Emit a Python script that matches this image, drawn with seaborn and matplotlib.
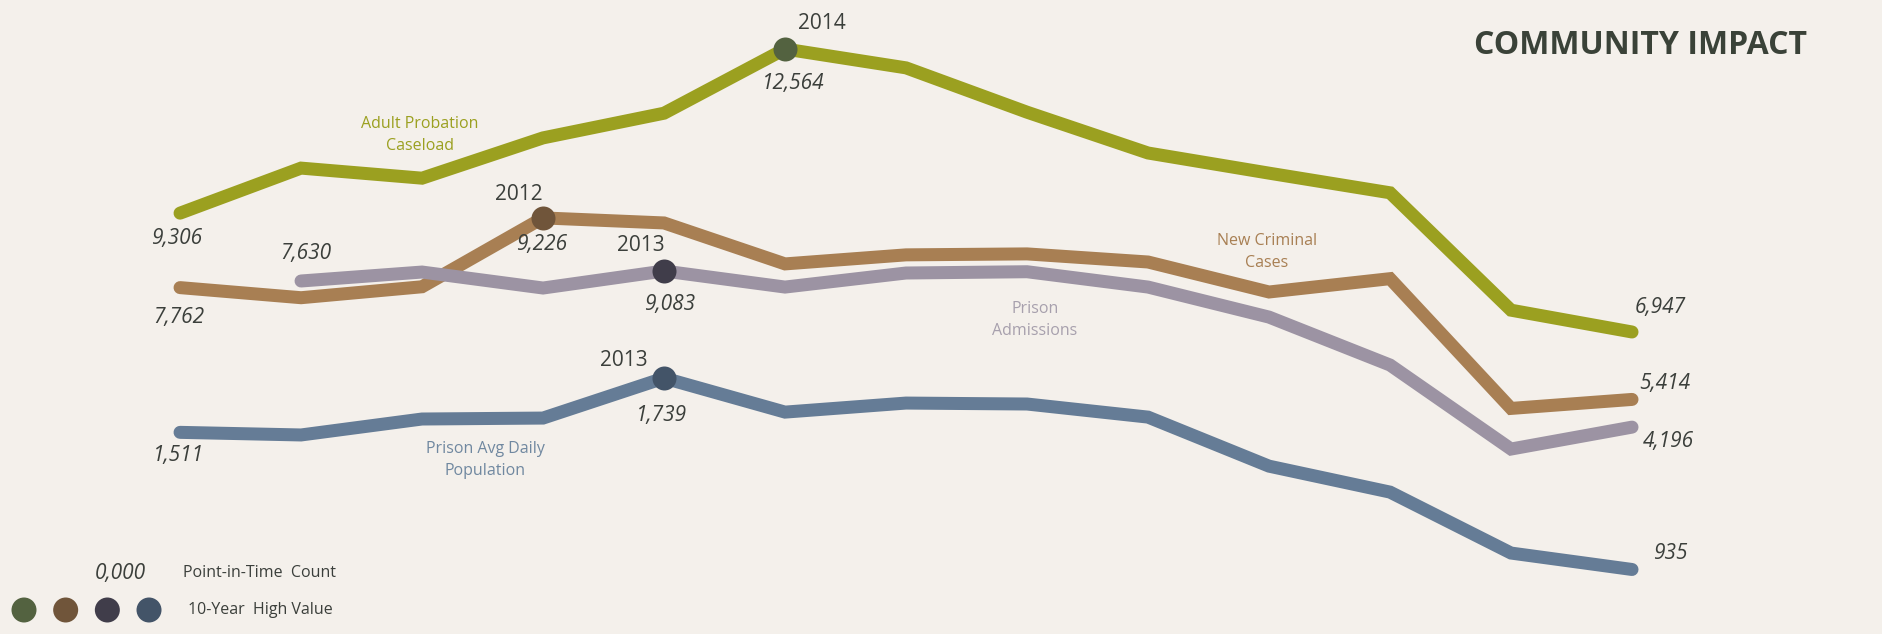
import numpy as np
import matplotlib
matplotlib.use("Agg")
import matplotlib.pyplot as plt
import seaborn as sns

# === Data ===
years = list(range(2009, 2022))
probation = [9306, 10200, 10000, 10800, 11290, 12564, 12190, 11310, 10500, 10100, 9710, 7380, 6947]
new_cases = [7762, 7550, 7780, 9226, 9120, 8260, 8450, 8470, 8300, 7670, 7950, 5225, 5414]
admissions = [np.nan, 8770, 9050, 8550, 9083, 8580, 9020, 9060, 8580, 7640, 6140, 3510, 4196]
prison_adp = [1511, 1500, 1567, 1571, 1739, 1596, 1634, 1630, 1575, 1369, 1260, 1004, 935]

series_names = ["Adult Probation\nCaseload", "New Criminal\nCases",
                "Prison\nAdmissions", "Prison Avg Daily\nPopulation"]
first_labels = ["9,306", "7,762", "7,630", "1,511"]
high_colors = ["#536240", "#70553A", "#403D4A", "#435468"]

BG = "#F4F0EB"
TXT = "#3B3F3B"

sns.set_theme(style="white")
plt.rcParams["font.family"] = ["Open Sans", "DejaVu Sans"]

W, H = 1882, 634
fig = plt.figure(figsize=(W / 100, H / 100), dpi=100, facecolor=BG)

# each series sits on its own y scale, like stacked Excel charts
cfg = [
    dict(vals=probation, color="#9BA020", ylim=(952, 13537),
         yr_off=(37, 26), first_off=(-3, 25), peak_off=(8, 34), last_off=(28, -24),
         name_xy=(420, 135), name_color="#9BA020"),
    dict(vals=new_cases, color="#A87F53", ylim=(488, 13802),
         yr_off=(-24, 23), first_off=(-1, 30), peak_off=(-1, 27), last_off=(33, -16),
         name_xy=(1267, 252), name_color="#A87F53"),
    dict(vals=admissions, color="#9C93A3", ylim=(-2279, 17565),
         yr_off=(-23, 25), first_off=(5, -27), peak_off=(6, 34), last_off=(36, 14),
         name_xy=(1035, 320), name_color="#A7A0AD"),
    dict(vals=prison_adp, color="#657C96", ylim=(664, 3327),
         yr_off=(-40, 18), first_off=(-2, 23), peak_off=(-3, 37), last_off=(38, -16),
         name_xy=(485, 460), name_color="#7088A0"),
]

px = 0.72  # points per pixel at dpi 100
VAL_FS = 15

for i, c in enumerate(cfg):
    ax = fig.add_axes([0, 0, 1, 1])
    ax.set_facecolor("none")
    ax.patch.set_alpha(0)
    vals = np.array(c["vals"], dtype=float)
    sns.lineplot(x=years, y=vals, ax=ax, color=c["color"], linewidth=13 * px,
                 solid_capstyle="round", solid_joinstyle="miter", sort=False)
    ax.set_xlim(2007.512, 2023.066)
    ax.set_ylim(*c["ylim"])
    ax.axis("off")

    # 10-year high marker
    k = int(np.nanargmax(vals))
    sns.scatterplot(x=[years[k]], y=[vals[k]], ax=ax, color=high_colors[i],
                    s=(24 * px) ** 2, linewidth=0, zorder=5)
    ax.annotate(str(years[k]), xy=(years[k], vals[k]),
                xytext=(c["yr_off"][0] * px, c["yr_off"][1] * px),
                textcoords="offset points", ha="center", va="center",
                fontsize=15, color=TXT)
    ax.annotate(f"{int(vals[k]):,}", xy=(years[k], vals[k]),
                xytext=(c["peak_off"][0] * px, -c["peak_off"][1] * px),
                textcoords="offset points", ha="center", va="center",
                fontsize=VAL_FS, style="italic", color=TXT)

    # first and last values
    valid = np.where(~np.isnan(vals))[0]
    f, l = valid[0], valid[-1]
    ax.annotate(first_labels[i], xy=(years[f], vals[f]),
                xytext=(c["first_off"][0] * px, -c["first_off"][1] * px),
                textcoords="offset points", ha="center", va="center",
                fontsize=VAL_FS, style="italic", color=TXT)
    ax.annotate(f"{int(vals[l]):,}", xy=(years[l], vals[l]),
                xytext=(c["last_off"][0] * px, -c["last_off"][1] * px),
                textcoords="offset points", ha="center", va="center",
                fontsize=VAL_FS, style="italic", color=TXT)

    fig.text(c["name_xy"][0] / W, 1 - c["name_xy"][1] / H, series_names[i],
             ha="center", va="center", fontsize=11.5, color=c["name_color"],
             linespacing=1.55)

# title
fig.text(1807 / W, 1 - 45 / H, "COMMUNITY IMPACT", ha="right", va="center",
         fontsize=23, fontweight="bold", color="#3A4238")

# legend block (bottom left)
lax = fig.add_axes([0, 4 / H, 200 / W, 40 / H])
lax.set_facecolor("none")
sns.scatterplot(x=list(range(len(high_colors))), y=[0] * len(high_colors),
                hue=high_colors, palette=high_colors, s=(25 * px) ** 2,
                linewidth=0, legend=False, ax=lax)
lax.set_xlim(-24 / 41.67, (200 - 24) / 41.67)
lax.set_ylim(-1, 1)
lax.axis("off")

fig.text(120 / W, 1 - 573 / H, "0,000", ha="center", va="center",
         fontsize=VAL_FS, style="italic", color=TXT)
fig.text(183 / W, 1 - 573 / H, "Point-in-Time  Count", ha="left", va="center",
         fontsize=11.5, color=TXT)
fig.text(188 / W, 1 - 610 / H, "10-Year  High Value", ha="left", va="center",
         fontsize=11.5, color=TXT)

fig.savefig("out.png", dpi=100, facecolor=BG)
